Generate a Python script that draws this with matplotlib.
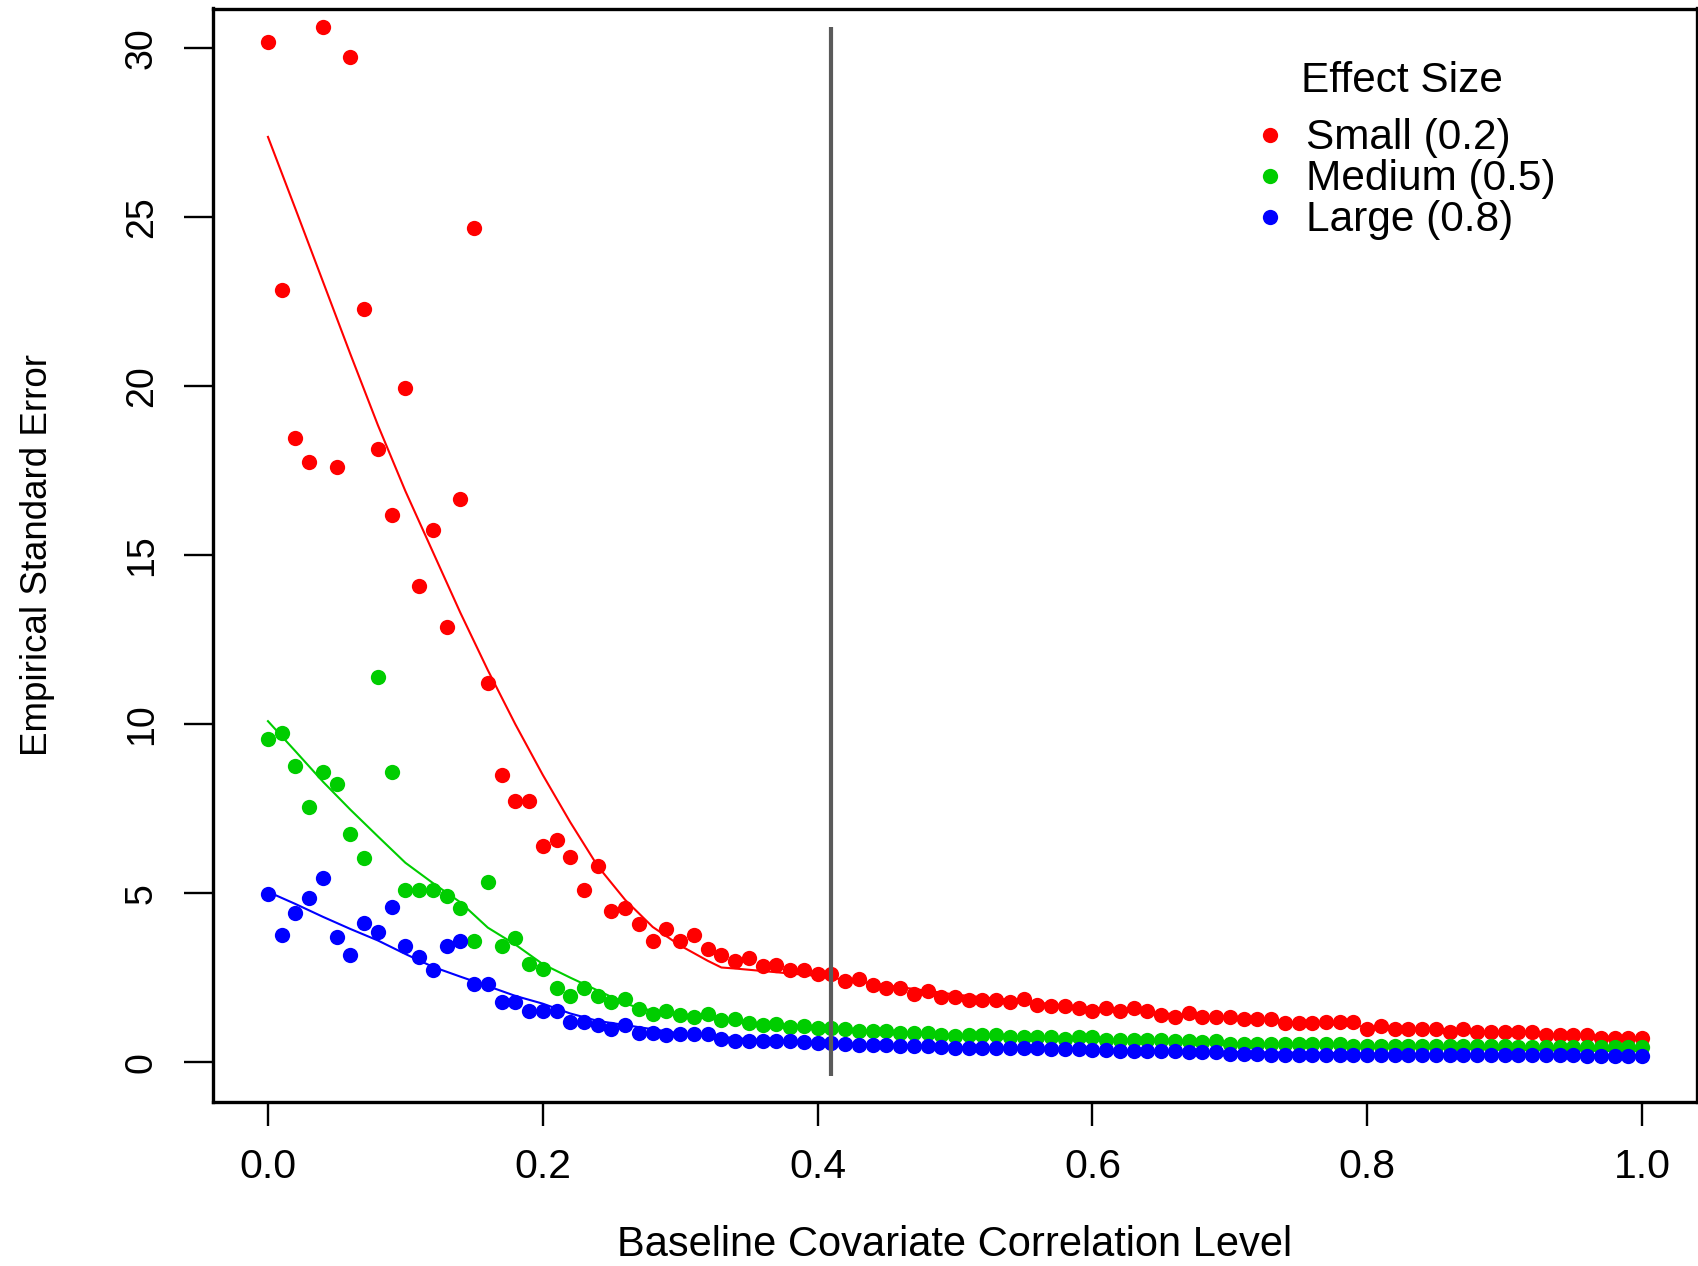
import matplotlib
matplotlib.use("Agg")
import matplotlib.pyplot as plt
from matplotlib.lines import Line2D
import numpy as np

plt.rcParams['font.family'] = ['Liberation Sans', 'DejaVu Sans']

# ---------------- data ----------------
corr_level = [round(0.01 * i, 2) for i in range(101)]

se_small = [30.20, 22.85, 18.48, 17.77, 30.62, 17.60, 29.75, 22.30, 18.13, 16.20,
            19.96, 14.10, 15.76, 12.88, 16.65, 24.68, 11.23, 8.49, 7.74, 7.74,
            6.41, 6.58, 6.06, 5.10, 5.80, 4.48, 4.55, 4.09, 3.59, 3.93,
            3.59, 3.76, 3.34, 3.17, 3.00, 3.09, 2.84, 2.87, 2.72, 2.72,
            2.62, 2.62, 2.39, 2.47, 2.28, 2.20, 2.20, 2.03, 2.10, 1.93,
            1.93, 1.83, 1.83, 1.83, 1.78, 1.86, 1.68, 1.66, 1.66, 1.60,
            1.50, 1.60, 1.50, 1.60, 1.50, 1.40, 1.34, 1.44, 1.34, 1.34,
            1.34, 1.27, 1.27, 1.27, 1.17, 1.17, 1.17, 1.20, 1.20, 1.20,
            0.99, 1.07, 0.99, 0.99, 0.99, 0.99, 0.89, 0.99, 0.89, 0.89,
            0.89, 0.89, 0.89, 0.79, 0.79, 0.79, 0.79, 0.71, 0.71, 0.71,
            0.71]

se_medium = [9.55, 9.74, 8.75, 7.54, 8.58, 8.23, 6.74, 6.05, 11.39, 8.58,
             5.09, 5.09, 5.09, 4.92, 4.55, 3.59, 5.34, 3.44, 3.66, 2.90,
             2.77, 2.20, 1.95, 2.20, 1.95, 1.78, 1.88, 1.58, 1.43, 1.51,
             1.38, 1.33, 1.43, 1.24, 1.27, 1.17, 1.09, 1.12, 1.05, 1.08,
             1.02, 1.00, 0.98, 0.93, 0.92, 0.92, 0.86, 0.85, 0.86, 0.80,
             0.78, 0.79, 0.79, 0.79, 0.74, 0.74, 0.74, 0.74, 0.69, 0.73,
             0.73, 0.65, 0.64, 0.64, 0.64, 0.64, 0.62, 0.62, 0.60, 0.62,
             0.55, 0.55, 0.55, 0.55, 0.55, 0.55, 0.55, 0.55, 0.55, 0.47,
             0.47, 0.47, 0.47, 0.47, 0.47, 0.47, 0.47, 0.47, 0.47, 0.47,
             0.47, 0.44, 0.44, 0.44, 0.44, 0.44, 0.44, 0.44, 0.44, 0.44,
             0.44]

se_large = [4.98, 3.76, 4.40, 4.85, 5.44, 3.69, 3.17, 4.13, 3.86, 4.58,
            3.44, 3.10, 2.74, 3.44, 3.59, 2.31, 2.31, 1.78, 1.78, 1.51,
            1.51, 1.51, 1.19, 1.19, 1.09, 0.99, 1.09, 0.86, 0.86, 0.79,
            0.82, 0.82, 0.82, 0.69, 0.62, 0.62, 0.62, 0.62, 0.62, 0.60,
            0.56, 0.58, 0.55, 0.50, 0.50, 0.50, 0.48, 0.48, 0.48, 0.45,
            0.42, 0.42, 0.42, 0.42, 0.42, 0.42, 0.42, 0.38, 0.38, 0.40,
            0.35, 0.36, 0.33, 0.33, 0.33, 0.33, 0.33, 0.30, 0.30, 0.30,
            0.25, 0.25, 0.25, 0.20, 0.20, 0.20, 0.20, 0.20, 0.20, 0.20,
            0.20, 0.20, 0.20, 0.20, 0.20, 0.20, 0.20, 0.20, 0.20, 0.20,
            0.20, 0.20, 0.20, 0.20, 0.20, 0.20, 0.17, 0.17, 0.17, 0.17,
            0.17]

# fitted trend curves
fit_small_x = [0.00, 0.02, 0.04, 0.06, 0.08, 0.10, 0.12, 0.14, 0.16, 0.18, 0.20,
               0.22, 0.24, 0.26, 0.28, 0.30, 0.32, 0.33, 0.34, 0.40, 0.50, 0.60,
               0.70, 0.80, 0.90, 1.00]
fit_small_y = [27.38, 25.25, 23.1, 20.95, 18.85, 16.9, 15.1, 13.3, 11.6, 10.0, 8.5,
               7.1, 5.8, 4.8, 4.0, 3.45, 3.0, 2.8, 2.77, 2.55, 2.0, 1.6,
               1.3, 1.05, 0.88, 0.72]

fit_medium_x = [0.00, 0.02, 0.04, 0.06, 0.08, 0.10, 0.12, 0.14, 0.16, 0.18, 0.20,
                0.22, 0.24, 0.26, 0.27, 0.30, 0.35, 0.40, 0.50, 0.60, 0.70, 0.80,
                0.90, 1.00]
fit_medium_y = [10.09, 9.2, 8.3, 7.47, 6.68, 5.9, 5.3, 4.73, 3.98, 3.48, 2.9,
                2.5, 2.12, 1.74, 1.6, 1.38, 1.15, 1.0, 0.8, 0.68, 0.55, 0.45,
                0.36, 0.32]

fit_large_x = [0.00, 0.02, 0.04, 0.06, 0.08, 0.10, 0.12, 0.14, 0.16, 0.18, 0.20,
               0.22, 0.24, 0.30, 0.35, 0.40, 0.50, 0.60, 0.70, 0.80, 0.90, 1.00]
fit_large_y = [5.04, 4.68, 4.3, 3.94, 3.6, 3.2, 2.82, 2.53, 2.25, 1.96, 1.73,
               1.44, 1.22, 0.85, 0.68, 0.58, 0.45, 0.36, 0.30, 0.26, 0.22, 0.19]

cutoff = 0.41
series_labels = ["Small (0.2)", "Medium (0.5)", "Large (0.8)"]
legend_title = "Effect Size"
x_ticks = [0.0, 0.2, 0.4, 0.6, 0.8, 1.0]
x_tick_labels = ["0.0", "0.2", "0.4", "0.6", "0.8", "1.0"]
y_ticks = [0, 5, 10, 15, 20, 25, 30]
y_tick_labels = ["0", "5", "10", "15", "20", "25", "30"]
x_title = "Baseline Covariate Correlation Level"
y_title = "Empirical Standard Error"

# ---------------- styling ----------------
RED, GREEN, BLUE = "#FF0000", "#00CD00", "#0000FF"
colors = [RED, GREEN, BLUE]
W, H = 1699, 1266

fig = plt.figure(figsize=(W / 100, H / 100), dpi=100)
ax = fig.add_axes([213 / W, 1 - 1102 / H, (1697 - 213) / W, (1102 - 8.5) / H])

ms = 11
for vals, c in zip([se_small, se_medium, se_large], colors):
    ax.plot(corr_level, vals, linestyle="none", marker="o", ms=ms,
            markeredgewidth=0, color=c, zorder=3)

for fx, fy, c in zip([fit_small_x, fit_medium_x, fit_large_x],
                     [fit_small_y, fit_medium_y, fit_large_y], colors):
    ax.plot(fx, fy, color=c, lw=1.5, zorder=2)

ax.plot([cutoff, cutoff], [-0.4, max(se_small)], color="#5a5a5a", lw=3, zorder=4,
        solid_capstyle="butt")

ax.set_xlim(-0.04, 1.04)
ax.set_ylim(-1.18, 31.18)

ax.set_xticks(x_ticks)
ax.set_xticklabels(x_tick_labels)
ax.set_yticks(y_ticks)
ax.set_yticklabels(y_tick_labels)

for sp in ax.spines.values():
    sp.set_linewidth(2.4)
    sp.set_color("black")

ax.tick_params(axis="x", direction="out", length=17, width=1.7, labelsize=29.5,
               pad=16.0, colors="black")
ax.tick_params(axis="y", direction="out", length=21, width=1.7, labelsize=27,
               pad=17.3, labelrotation=90, colors="black")
for lbl in ax.get_yticklabels():
    lbl.set_va("center")

ax.set_xlabel(x_title, fontsize=30, va="baseline")
ax.xaxis.set_label_coords(0.5, -(1256 - 1102) / (1102 - 8.5))
ax.set_ylabel(y_title, fontsize=26.5, va="baseline", ha="center")
ax.yaxis.set_label_coords((47 - 213) / (1697 - 213), (1102 - 554.5) / (1102 - 8.5))

handles = [Line2D([], [], linestyle="none", marker="o", ms=ms, markeredgewidth=0,
                  color=c) for c in colors]
leg = ax.legend(handles, series_labels, loc="upper left",
                bbox_to_anchor=(1253 / W, 1 - 118.4 / H), bbox_transform=fig.transFigure,
                frameon=False, fontsize=30.5, handlelength=0.8, handletextpad=0.45,
                labelspacing=0.024, borderpad=0, borderaxespad=0)
fig.text(1402 / W, 1 - 91.7 / H, legend_title, fontsize=30.5, ha="center",
         va="baseline")

fig.savefig("out.png", dpi=100)
